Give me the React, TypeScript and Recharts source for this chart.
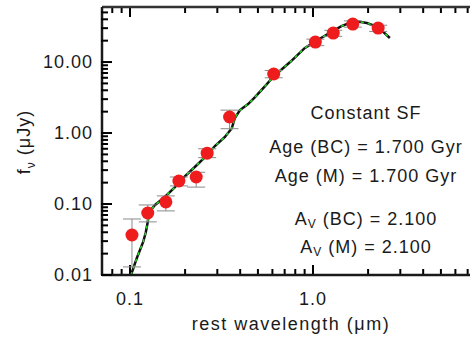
import React from "react";
import {
  ComposedChart,
  ErrorBar,
  Line,
  ReferenceLine,
  Scatter,
  XAxis,
  YAxis,
} from "recharts";

// model SED (rest wavelength in micron, flux in microJy)
const modelWave = [
  0.1013, 0.109, 0.118, 0.122, 0.125, 0.127, 0.137, 0.155, 0.176, 0.2, 0.226,
  0.257, 0.291, 0.33, 0.36, 0.374, 0.399, 0.442, 0.482, 0.547, 0.612, 0.75,
  0.9, 1.06, 1.23, 1.43, 1.69, 1.97, 2.26, 2.46, 2.63,
];
const modelFlux = [
  0.01, 0.0174, 0.0292, 0.04, 0.0557, 0.077, 0.097, 0.1256, 0.173, 0.248,
  0.332, 0.459, 0.656, 0.88, 1.17, 1.63, 2.11, 2.56, 3.21, 4.59, 6.35, 10,
  15.7, 20.4, 25.6, 32.1, 37.8, 35.4, 31.1, 25.6, 21.8,
];

// photometry
const obsWave = [0.1025, 0.125, 0.157, 0.185, 0.23, 0.264, 0.35, 0.61, 1.03, 1.29, 1.65, 2.27];
const obsFlux = [0.0366, 0.0747, 0.107, 0.211, 0.24, 0.52, 1.68, 6.78, 19.1, 25.6, 34.3, 30.1];
const obsLow = [0.013, 0.056, 0.08, 0.18, 0.173, 0.45, 1.15, 6.0, 17, 23, 31, 27];
const obsHigh = [0.0615, 0.097, 0.13, 0.24, 0.28, 0.6, 2.1, 7.6, 21, 28, 38, 33];

const xMajor = [0.1, 1];
const yMajor = [0.01, 0.1, 1, 10];
const xDomain: [number, number] = [0.0703, 7.21];
const yDomain: [number, number] = [0.01, 59.6];

const W = 470;
const H = 337;
const Y_AXIS_W = 102;
const X_AXIS_H = 62;
const TOP_H = 7;
const plotH = H - X_AXIS_H - TOP_H;
const pxPerDecY = plotH / Math.log10(yDomain[1] / yDomain[0]);

const minorTicks = (from: number, to: number, lo: number, hi: number) => {
  const out: number[] = [];
  for (let e = from; e <= to; e++) {
    for (let d = 1; d <= 9; d++) {
      const v = parseFloat((d * Math.pow(10, e)).toPrecision(3));
      if (v >= lo && v <= hi) out.push(v);
    }
  }
  return out;
};

const xTicks = minorTicks(-2, 0, xDomain[0], xDomain[1]);
const yTicks = minorTicks(-2, 1, yDomain[0], yDomain[1]);

const isMajor = (v: number, majors: number[]) =>
  majors.some((m) => Math.abs(m - v) < 1e-9);

const modelData = modelWave.map((w, i) => ({ x: w, y: modelFlux[i] }));
const obsData = obsWave.map((w, i) => ({
  x: w,
  y: obsFlux[i],
  err: [obsFlux[i] - obsLow[i], obsHigh[i] - obsFlux[i]],
}));

const INK = "#1a1a1a";
const FONT = "'Liberation Sans', Arial, sans-serif";
// tiny but non-zero so recharts doesn't fall back to its default tick size
const TS = 0.001;

const tickLen = (major: boolean) => (major ? 10 : 6);
const yFactor = (px: number) => Math.pow(10, px / pxPerDecY);

function LeftTick(props: any) {
  const { x, y, payload } = props;
  const major = isMajor(payload.value, yMajor);
  return (
    <g>
      <path d={`M${x - 1},${y}h${tickLen(major) + 1}`} stroke="#000" strokeWidth={2} fill="none" />
      {major && (
        <text x={x - 9} y={y} dy={6} textAnchor="end" fontSize={18} letterSpacing={1} fill={INK} fontFamily={FONT}>
          {payload.value.toFixed(2)}
        </text>
      )}
    </g>
  );
}

function BottomLabel(props: any) {
  const { x, y, payload } = props;
  if (!isMajor(payload.value, xMajor)) return <g />;
  return (
    <text x={x} y={y + 30} textAnchor="middle" fontSize={18} letterSpacing={1} fill={INK} fontFamily={FONT}>
      {payload.value.toFixed(1)}
    </text>
  );
}

const note: React.CSSProperties = {
  position: "absolute",
  width: 260,
  left: 236,
  textAlign: "center",
  fontFamily: FONT,
  fontSize: 18,
  letterSpacing: 1,
  color: INK,
  whiteSpace: "nowrap",
  lineHeight: "20px",
};

export default function App() {
  return (
    <div style={{ position: "absolute", left: 0, top: 0, width: W, height: H, background: "#fff" }}>
      <ComposedChart
        width={W}
        height={H}
        data={modelData}
        margin={{ top: 0, right: 0, bottom: 0, left: 0 }}
      >
        <XAxis
          xAxisId="b"
          type="number"
          dataKey="x"
          scale="log"
          domain={xDomain}
          allowDataOverflow
          ticks={xTicks}
          interval={0}
          height={X_AXIS_H}
          tickSize={TS}
          tickMargin={0}
          tick={<BottomLabel />}
          axisLine={{ stroke: INK, strokeWidth: 2.5 }}
          tickLine={false}
          label={{
            value: "rest wavelength (μm)",
            position: "insideBottom",
            offset: 7,
            dx: 5,
            fontSize: 18,
            letterSpacing: 1.5,
            fill: INK,
            fontFamily: FONT,
          }}
        />
        <XAxis
          xAxisId="t"
          orientation="top"
          type="number"
          dataKey="x"
          scale="log"
          domain={xDomain}
          allowDataOverflow
          ticks={xTicks}
          interval={0}
          height={TOP_H}
          tick={false}
          axisLine={{ stroke: "#333", strokeWidth: 2.5 }}
          tickLine={false}
        />
        <YAxis
          type="number"
          dataKey="y"
          scale="log"
          domain={yDomain}
          allowDataOverflow
          ticks={yTicks}
          interval={0}
          width={Y_AXIS_W}
          tickSize={TS}
          tickMargin={0}
          tick={<LeftTick />}
          axisLine={{ stroke: INK, strokeWidth: 2.5 }}
          tickLine={false}
          label={{
            content: () => (
              <text transform="translate(30,142) rotate(-90)" textAnchor="middle" fontSize={18} letterSpacing={1} fill={INK} fontFamily={FONT}>
                f<tspan dy={5} fontSize={12}>ν</tspan>
                <tspan dy={-5}> (μJy)</tspan>
              </text>
            ),
          }}
        />
        {xTicks.map((v) => (
          <ReferenceLine
            key={`xb${v}`}
            xAxisId="b"
            ifOverflow="visible"
            stroke="#000"
            strokeWidth={2}
            segment={[
              { x: v, y: yDomain[0] },
              { x: v, y: yDomain[0] * yFactor(tickLen(isMajor(v, xMajor))) },
            ]}
          />
        ))}
        {xTicks.map((v) => (
          <ReferenceLine
            key={`xt${v}`}
            xAxisId="b"
            ifOverflow="visible"
            stroke="#000"
            strokeWidth={2}
            segment={[
              { x: v, y: yDomain[1] },
              { x: v, y: yDomain[1] / yFactor(tickLen(isMajor(v, xMajor))) },
            ]}
          />
        ))}
        <Line
          xAxisId="t"
          dataKey="y"
          stroke="none"
          dot={false}
          legendType="none"
          isAnimationActive={false}
        />
        <Line
          xAxisId="b"
          dataKey="y"
          type="linear"
          stroke="#111"
          strokeWidth={2.5}
          dot={false}
          isAnimationActive={false}
        />
        <Line
          xAxisId="b"
          dataKey="y"
          type="linear"
          stroke="#22dd22"
          strokeWidth={1.5}
          strokeDasharray="3 4"
          dot={false}
          isAnimationActive={false}
        />
        <Scatter
          xAxisId="b"
          data={obsData}
          dataKey="y"
          fill="#ee1c1c"
          shape={(p: any) => <circle cx={p.cx} cy={p.cy} r={6.5} fill="#ee1c1c" />}
          isAnimationActive={false}
        >
          <ErrorBar dataKey="err" direction="y" width={9} stroke="#8a8a8a" strokeWidth={1} />
        </Scatter>
      </ComposedChart>
      <div style={{ ...note, top: 103 }}>Constant SF</div>
      <div style={{ ...note, top: 137 }}>Age (BC) = 1.700 Gyr</div>
      <div style={{ ...note, top: 166 }}>Age (M) = 1.700 Gyr</div>
      <div style={{ ...note, top: 209 }}>
        A<sub style={{ fontSize: 12, verticalAlign: -3 }}>V</sub> (BC) = 2.100
      </div>
      <div style={{ ...note, top: 237 }}>
        A<sub style={{ fontSize: 12, verticalAlign: -3 }}>V</sub> (M) = 2.100
      </div>
    </div>
  );
}
